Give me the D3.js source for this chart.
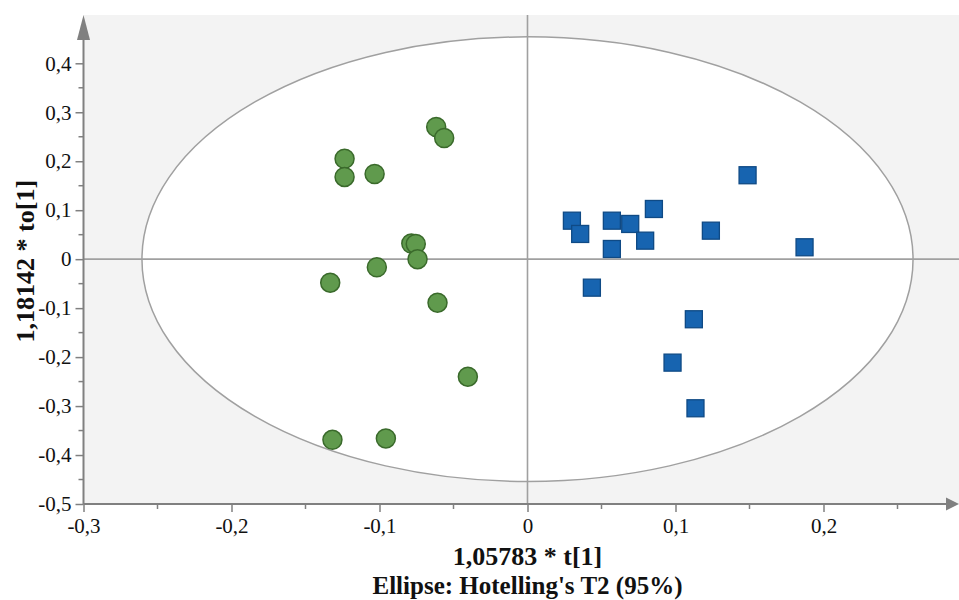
<!DOCTYPE html>
<html>
<head>
<meta charset="utf-8">
<script src="https://cdn.jsdelivr.net/npm/d3@7"></script>
<style>
  html, body { margin: 0; padding: 0; background: #ffffff; }
  svg { display: block; }
  svg text { font-family: 'Liberation Serif', 'Times New Roman', 'DejaVu Serif', serif; }
</style>
</head>
<body>
<svg id="chart" width="959" height="600"></svg>
<script>
// ---------------- data ----------------
const groupA_t  = [-0.0617, -0.0563, -0.1236, -0.1236, -0.1033, -0.0785, -0.0755, -0.0743, -0.1018, -0.1333, -0.0608, -0.0403, -0.1318, -0.0957];
const groupA_to = [ 0.270,   0.2475,  0.205,   0.168,   0.174,   0.032,   0.031,   0.000,  -0.0165, -0.048,  -0.0888, -0.240,  -0.369,  -0.366];

const groupB_t  = [0.1487, 0.0300, 0.0356, 0.0570, 0.0694, 0.0854, 0.0795, 0.0570, 0.1239, 0.1872, 0.0435, 0.1124, 0.0980, 0.1135];
const groupB_to = [0.1714, 0.0786, 0.0515, 0.0786, 0.0719, 0.1025, 0.0378, 0.0208, 0.0582, 0.0243, -0.0582, -0.1227, -0.2113, -0.3045];

const ellipseRadii = [0.2605, 0.454]; // Hotelling's T2 (95%) semi-axes in t[1], to[1]

const xTicks = [-0.3, -0.2, -0.1, 0, 0.1, 0.2];
const xTickLabels = ["-0,3", "-0,2", "-0,1", "0", "0,1", "0,2"];
const xMinorTicks = [-0.25, -0.15, -0.05, 0.05, 0.15, 0.25];
const yTicks = [-0.5, -0.4, -0.3, -0.2, -0.1, 0, 0.1, 0.2, 0.3, 0.4];
const yTickLabels = ["-0,5", "-0,4", "-0,3", "-0,2", "-0,1", "0", "0,1", "0,2", "0,3", "0,4"];
const yMinorTicks = [-0.45, -0.35, -0.25, -0.15, -0.05, 0.05, 0.15, 0.25, 0.35];

const xTitle = "1,05783 * t[1]";
const yTitle = "1,18142 * to[1]";
const subTitle = "Ellipse: Hotelling's T2 (95%)";

// ---------------- layout ----------------
const svg = d3.select("#chart");
const plotL = 83.5, plotB = 504, plotT = 15, plotR = 959;

const x = d3.scaleLinear().domain([-0.3, 0.2]).range([83.5, 823.5]);
const y = d3.scaleLinear().domain([-0.5, 0.4]).range([504, 63.3]);

const serif = "'Liberation Serif', 'Times New Roman', 'DejaVu Serif', serif";
const axisGray = "#808080";
const lineGray = "#a0a0a0";

// plot background
svg.append("rect")
  .attr("x", plotL).attr("y", plotT)
  .attr("width", plotR - plotL).attr("height", plotB - plotT)
  .attr("fill", "#f3f3f3");

// ellipse
svg.append("ellipse")
  .attr("cx", x(0)).attr("cy", y(0))
  .attr("rx", x(ellipseRadii[0]) - x(0))
  .attr("ry", y(0) - y(ellipseRadii[1]))
  .attr("fill", "#ffffff")
  .attr("stroke", lineGray)
  .attr("stroke-width", 1.5);

// zero lines
svg.append("line")
  .attr("x1", plotL).attr("x2", plotR)
  .attr("y1", y(0)).attr("y2", y(0))
  .attr("stroke", lineGray).attr("stroke-width", 1.6);
svg.append("line")
  .attr("x1", x(0)).attr("x2", x(0))
  .attr("y1", plotT).attr("y2", plotB)
  .attr("stroke", lineGray).attr("stroke-width", 1.6);

// axes
const xAxis = d3.axisBottom(x)
  .tickValues(xTicks)
  .tickFormat((d, i) => xTickLabels[i])
  .tickSize(8).tickPadding(6);
const gx = svg.append("g").attr("transform", `translate(0,${plotB})`).call(xAxis);
gx.attr("font-family", null).attr("font-size", null);
gx.select(".domain").remove();
gx.selectAll(".tick line").attr("stroke", axisGray).attr("stroke-width", 1.5);
gx.selectAll(".tick text")
  .style("font-family", serif).style("font-size", "21px").attr("fill", "#111");

gx.selectAll(".minor").data(xMinorTicks).enter().append("line")
  .attr("class", "minor")
  .attr("x1", d => x(d)).attr("x2", d => x(d))
  .attr("y1", 0).attr("y2", 5)
  .attr("stroke", axisGray).attr("stroke-width", 1.5);

const yAxis = d3.axisLeft(y)
  .tickValues(yTicks)
  .tickFormat((d, i) => yTickLabels[i])
  .tickSize(8).tickPadding(4);
const gy = svg.append("g").attr("transform", `translate(${plotL},0)`).call(yAxis);
gy.attr("font-family", null).attr("font-size", null);
gy.select(".domain").remove();
gy.selectAll(".tick line").attr("stroke", axisGray).attr("stroke-width", 1.5);
gy.selectAll(".tick text")
  .style("font-family", serif).style("font-size", "21px").attr("fill", "#111");

gy.selectAll(".minor").data(yMinorTicks).enter().append("line")
  .attr("class", "minor")
  .attr("x1", -5).attr("x2", 0)
  .attr("y1", d => y(d)).attr("y2", d => y(d))
  .attr("stroke", axisGray).attr("stroke-width", 1.5);

// axis lines with arrows
svg.append("line")
  .attr("x1", plotL).attr("x2", 948)
  .attr("y1", plotB).attr("y2", plotB)
  .attr("stroke", axisGray).attr("stroke-width", 2);
svg.append("path")
  .attr("d", `M946,${plotB - 6.5} L959,${plotB} L946,${plotB + 6.5} Z`)
  .attr("fill", axisGray);
svg.append("line")
  .attr("x1", plotL).attr("x2", plotL)
  .attr("y1", plotB).attr("y2", 38)
  .attr("stroke", axisGray).attr("stroke-width", 2);
svg.append("path")
  .attr("d", `M${plotL - 6.5},40 L${plotL},15 L${plotL + 6.5},40 Z`)
  .attr("fill", axisGray);

// points
const A = groupA_t.map((t, i) => ({ t, to: groupA_to[i] }));
const B = groupB_t.map((t, i) => ({ t, to: groupB_to[i] }));

svg.append("g").selectAll("circle").data(A).enter().append("circle")
  .attr("cx", d => x(d.t)).attr("cy", d => y(d.to))
  .attr("r", 9.5)
  .attr("fill", "#609a4d")
  .attr("stroke", "#3a6a2b")
  .attr("stroke-width", 1.5);

const sq = 17;
svg.append("g").selectAll("rect").data(B).enter().append("rect")
  .attr("x", d => x(d.t) - sq / 2).attr("y", d => y(d.to) - sq / 2)
  .attr("width", sq).attr("height", sq)
  .attr("fill", "#1764b0")
  .attr("stroke", "#0f4a85")
  .attr("stroke-width", 1.3);

// titles
svg.append("text")
  .attr("x", x(0)).attr("y", 565)
  .attr("text-anchor", "middle")
  .style("font-family", serif).attr("font-weight", "bold").attr("font-size", 26)
  .attr("fill", "#111")
  .text(xTitle);
svg.append("text")
  .attr("x", x(0)).attr("y", 594)
  .attr("text-anchor", "middle")
  .style("font-family", serif).attr("font-weight", "bold").attr("font-size", 25)
  .attr("fill", "#111")
  .text(subTitle);
svg.append("text")
  .attr("transform", `translate(34,${y(0) + 2}) rotate(-90)`)
  .attr("text-anchor", "middle")
  .style("font-family", serif).attr("font-weight", "bold").attr("font-size", 26)
  .attr("fill", "#111")
  .text(yTitle);
</script>
</body>
</html>
